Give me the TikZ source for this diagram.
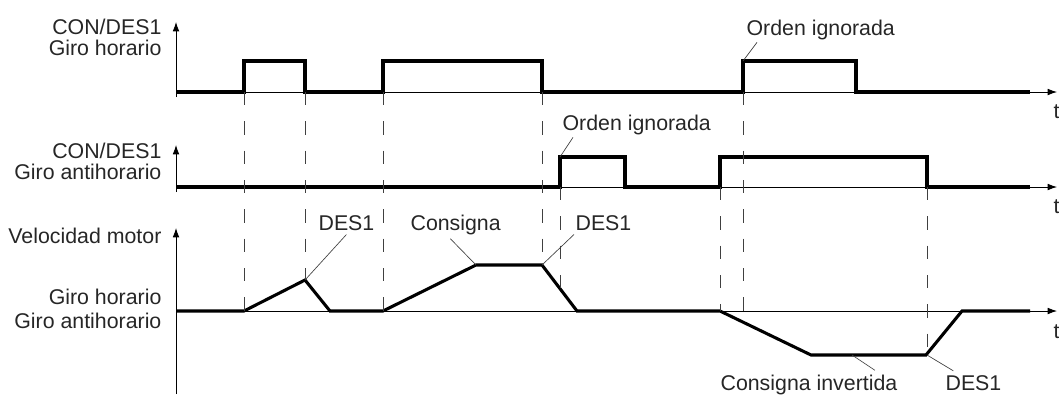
\documentclass[tikz,border=0pt]{standalone}
\usepackage{fontspec}
\setmainfont{Liberation Sans}
\usetikzlibrary{positioning, arrows.meta}

\begin{document}
\begin{tikzpicture}[x=0.75pt, y=-0.75pt, >={Latex[length=7pt,width=5pt]},
    axis/.style={->, line width=0.6pt},
    signal/.style={line width=2.3pt, line join=miter},
    guide/.style={line width=0.6pt, black!75, dash pattern=on 10pt off 12pt},
    leader/.style={line width=0.5pt, black!75},
    lbl/.style={font=\fontsize{16}{16}\selectfont, text=black!85, inner sep=1pt},
    ylbl/.style={lbl, anchor=base east},
    note/.style={lbl, anchor=base west}]
    \useasboundingbox (0,0) rectangle (1059,394);

    % axes
    \draw[axis] (176,97) -- (176,22);
    \draw[axis] (176,92) -- (1057,92);
    \draw[axis] (176,192) -- (176,145);
    \draw[axis] (176,187) -- (1057,187);
    \draw[axis] (176,394) -- (176,228);
    \draw[axis] (176,311) -- (1057,311);
    \node[note] (t1) at (1052,118) {t};
    \node[note] (t2) at (1052,213) {t};
    \node[note] (t3) at (1052,338) {t};

    % axis labels
    \node[ylbl] (cmd1) at (163,34) {CON/DES1};
    \node[ylbl] (cw1) at (163,55) {Giro horario};
    \node[ylbl] (cmd2) at (163,158) {CON/DES1};
    \node[ylbl] (ccw2) at (163,179) {Giro antihorario};
    \node[ylbl] (speed) at (163,243) {Velocidad motor};
    \node[ylbl] (cw3) at (163,304) {Giro horario};
    \node[ylbl] (ccw3) at (163,328) {Giro antihorario};

    % signals
    \draw[signal] (176,92) -- (244,92) -- (244,61) -- (305,61) -- (305,92) -- (383,92)
        -- (383,61) -- (542,61) -- (542,92) -- (743,92) -- (743,61) -- (856,61)
        -- (856,92) -- (1030,92);
    \draw[signal] (176,187) -- (560,187) -- (560,157) -- (625,157) -- (625,187)
        -- (720,187) -- (720,157) -- (927,157) -- (927,187) -- (1030,187);
    \draw[signal] (176,311) -- (244,311) -- (305,280) -- (330,311) -- (383,311)
        -- (476,265) -- (542,265) -- (577,311) -- (720,311) -- (811,355)
        -- (926,355) -- (962,311) -- (1030,311);

    % guides
    \foreach \x/\ya/\yb in {244/92/311, 305/92/280, 383/92/311, 542/92/265,
        560/187/289, 720/187/311, 743/92/322, 927/187/355}
        \draw[guide] (\x,\ya) -- (\x,\yb);

    % points on the signals
    \coordinate (ign1pt) at (743,61);
    \coordinate (ign2pt) at (560,157);
    \coordinate (peak) at (305,280);
    \coordinate (setpt) at (476,265);
    \coordinate (stop2) at (542,265);
    \coordinate (invpt) at (852,355);
    \coordinate (stop3) at (927,355);

    % notes
    \node[note] (ign1) at (745,35) {Orden ignorada};
    \node[note] (ign2) at (561,130) {Orden ignorada};
    \node[note] (des1a) at (317,230) {DES1};
    \node[note] (cons) at (409,230) {Consigna};
    \node[note] (des1b) at (574,230) {DES1};
    \node[note] (consinv) at (719,390) {Consigna invertida};
    \node[note] (des1c) at (944,390) {DES1};

    \draw[leader] ([xshift=9pt,yshift=-1pt]ign1.south west) -- (ign1pt);
    \draw[leader] ([xshift=9pt,yshift=-1pt]ign2.south west) -- (ign2pt);
    \draw[leader] ([yshift=-2pt]des1a.south) -- (peak);
    \draw[leader] ([xshift=-4pt,yshift=-2pt]cons.south) -- (setpt);
    \draw[leader] ([yshift=-2pt]des1b.south west) -- (stop2);
    \draw[leader] ([xshift=-18pt,yshift=2pt]consinv.north east) -- (invpt);
    \draw[leader] ([xshift=7pt,yshift=2pt]des1c.north west) -- (stop3);
\end{tikzpicture}
\end{document}
